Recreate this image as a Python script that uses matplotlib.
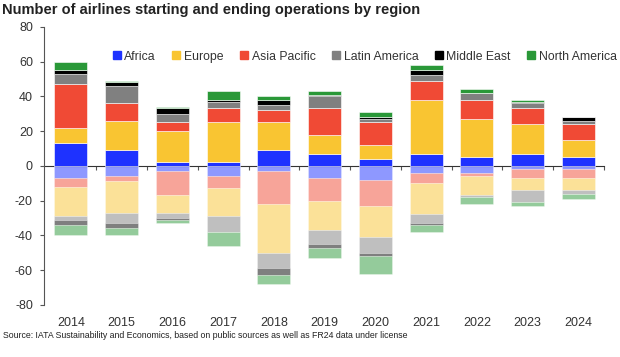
import numpy as np
import matplotlib
matplotlib.use('Agg')
import matplotlib.pyplot as plt
from matplotlib.patches import Patch

plt.rcParams['font.family'] = ['Liberation Sans', 'DejaVu Sans']
plt.rcParams['axes.unicode_minus'] = False

years = ['2014', '2015', '2016', '2017', '2018', '2019', '2020', '2021', '2022', '2023', '2024']
regions = ['Africa', 'Europe', 'Asia Pacific', 'Latin America', 'Middle East', 'North America']
colors = ['#1E32FF', '#F9C532', '#F04A35', '#808080', '#000000', '#2A9838']

# airlines starting operations
africa_start = [13, 9, 2, 2, 9, 7, 4, 7, 5, 7, 5]
europe_start = [9, 17, 18, 23, 16, 11, 8, 31, 22, 17, 10]
asia_start = [25, 10, 5, 8, 7, 15, 13, 11, 11, 9, 9]
latam_start = [6, 10, 5, 4, 3, 7, 2, 3, 4, 3, 2]
mideast_start = [2, 2, 3, 1, 3, 1, 1, 3, 0, 1, 2]
namerica_start = [5, 1, 1, 5, 2, 2, 3, 3, 2, 1, 0]

# airlines ending operations
africa_end = [7, 6, 3, 6, 3, 7, 8, 4, 4, 2, 2]
asia_end = [5, 3, 14, 7, 19, 13, 15, 6, 2, 5, 5]
europe_end = [17, 18, 10, 16, 28, 17, 18, 18, 11, 7, 7]
latam_end = [2, 6, 3, 9, 9, 8, 9, 5, 1, 7, 2]
mideast_end = [3, 3, 1, 0, 4, 2, 2, 1, 0, 0, 0]
namerica_end = [6, 4, 2, 8, 5, 6, 10, 4, 4, 2, 3]

x = np.arange(len(years))
width = 0.65

fig = plt.figure(figsize=(6.2, 3.57), dpi=100)
ax = fig.add_axes([0.071, 0.146, 0.903, 0.779])

# Положительные: Africa, Europe, Asia Pacific, LatAm, Middle East, North America
starts = [africa_start, europe_start, asia_start, latam_start, mideast_start, namerica_start]
bottom = np.zeros(len(years))
for vals, c in zip(starts, colors):
    ax.bar(x, vals, width, bottom=bottom, color=c, edgecolor='white', linewidth=0.4)
    bottom += np.array(vals)

# Отрицательные: порядок Africa, Asia Pacific, Europe, ...
ends = [(africa_end, colors[0]), (asia_end, colors[2]), (europe_end, colors[1]),
        (latam_end, colors[3]), (mideast_end, colors[4]), (namerica_end, colors[5])]
bottom = np.zeros(len(years))
for vals, c in ends:
    v = -np.array(vals)
    ax.bar(x, v, width, bottom=bottom, color=c, alpha=0.5, edgecolor='white', linewidth=0.4)
    bottom += v

ax.set_xlim(-0.53, 10.5)
ax.set_ylim(-80, 80)
ax.set_yticks(range(-80, 81, 20))
ax.set_xticks(x)
ax.set_xticklabels(years)

for s in ['top', 'right', 'bottom']:
    ax.spines[s].set_visible(False)
ax.spines['left'].set_color('#555555')
ax.tick_params(axis='y', length=3, pad=5, color='#555555', labelsize=9, labelcolor='#333333')
ax.tick_params(axis='x', length=0, pad=9, labelsize=9, labelcolor='#333333')

# линия нуля с засечками между годами
sec = ax.secondary_xaxis(0.5)
sec.set_alignment('bottom')
sec.set_xticks(np.arange(0.5, 11, 1))
sec.set_xticklabels([])
sec.tick_params(length=3, color='#555555')
sec.spines['bottom'].set_color('#333333')

handles = [Patch(color=c) for c in colors]
ax.legend(handles, regions, loc='center', bbox_to_anchor=(0.573, 0.893), ncol=6,
          frameon=False, fontsize=8.8, handlelength=0.65, handleheight=0.65,
          handletextpad=0.3, columnspacing=1.35, labelcolor='#333333')

fig.text(0.003, 0.972, 'Number of airlines starting and ending operations by region',
         fontsize=10.5, fontweight='bold', va='center', ha='left', color='#222222')
fig.text(0.005, 0.059, 'Source: IATA Sustainability and Economics, based on public sources as well as FR24 data under license',
         fontsize=6.3, va='center', ha='left', color='#222222')

fig.savefig('out.png', dpi=100)
